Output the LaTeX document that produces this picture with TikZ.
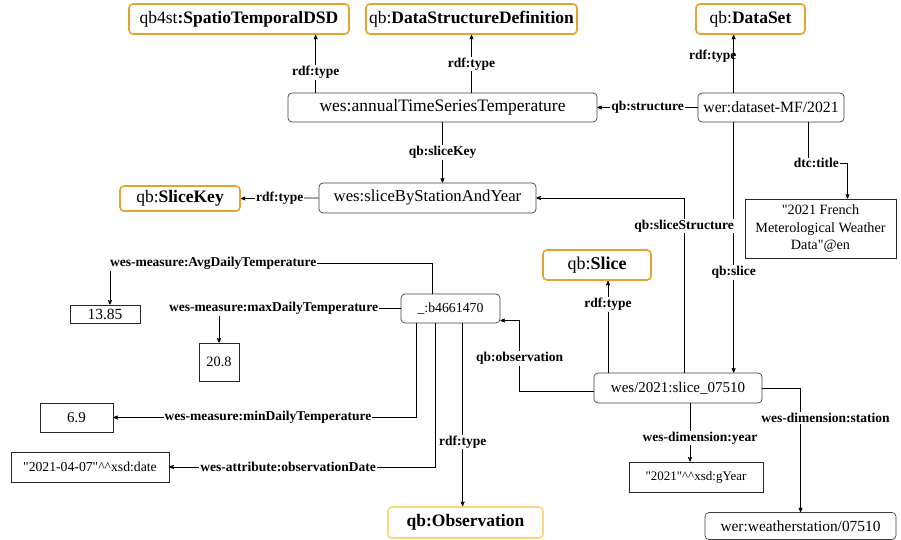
\documentclass[tikz,border=0pt]{standalone}
\usepackage{fontspec}
\setmainfont{Liberation Serif}[Ligatures=TeXOff]
\usetikzlibrary{arrows}
\definecolor{clsorange}{HTML}{E2A42C}
\definecolor{obsyellow}{HTML}{F8D77E}
\newcommand{\dq}{\symbol{34}}

\begin{document}
\begin{tikzpicture}[x=1pt,y=-1pt,>=stealth',line width=0.7pt,
    fs/.style={font=\fontsize{#1}{17.5}\selectfont},
    res/.style={draw=black!75,rounded corners=4pt,inner sep=0pt,fs=15.5},
    cls/.style={draw=clsorange,line width=1.6pt,rounded corners=4pt,inner sep=0pt,fs=17.5},
    lit/.style={draw=black!85,inner sep=0pt,align=center,fs=15.5},
    lbl/.style={fill=white,inner sep=1pt,font=\bfseries\fontsize{13.5}{15}\selectfont}]
    \useasboundingbox (0,0) rectangle (901,540);

    \node[cls, minimum width=220pt, minimum height=30pt] (std) at (239,19) {qb4st\textbf{:SpatioTemporalDSD}};
    \node[cls, minimum width=211pt, minimum height=30pt] (dsd) at (471.5,19) {qb:\textbf{DataStructureDefinition}};
    \node[cls, minimum width=109pt, minimum height=30pt] (dscls) at (750.5,19) {qb:\textbf{DataSet}};
    \node[res, fs=17.5, minimum width=309pt, minimum height=29pt] (annual) at (442.5,107.5) {wes:annualTimeSeriesTemperature};
    \node[res, fs=15.7, minimum width=146pt, minimum height=29pt] (ds) at (771,107.5) {wer:dataset-MF/2021};
    \node[cls, minimum width=120pt, minimum height=25pt] (sk) at (180,198.5) {qb:\textbf{SliceKey}};
    \node[res, fs=16.7, minimum width=217pt, minimum height=30pt] (sbs) at (427.5,198) {wes:sliceByStationAndYear};
    \node[lit, fs=14.2, minimum width=151pt, minimum height=59pt] (title) at (820.5,228.5) {\dq2021 French\\Meterological Weather\\Data\dq@en};
    \node[cls, fs=18, minimum width=108pt, minimum height=30pt] (slicecls) at (597,265) {qb:\textbf{Slice}};
    \node[res, fs=13.8, minimum width=99pt, minimum height=29pt] (bn) at (450.5,308.5) {\_:b4661470};
    \node[lit, minimum width=70pt, minimum height=18pt] (v1385) at (105,314) {13.85};
    \node[lit, fs=14.3, minimum width=40pt, minimum height=38pt] (v208) at (219,362) {20.8};
    \node[lit, fs=15, minimum width=73pt, minimum height=29pt] (v69) at (76.5,417.5) {6.9};
    \node[lit, fs=13.7, minimum width=158pt, minimum height=30pt] (date) at (90,467) {\dq2021-04-07\dq\^{}\^{}xsd:date};
    \node[res, fs=15, minimum width=168pt, minimum height=30pt] (slc) at (678,388) {wes/2021:slice\_07510};
    \node[lit, fs=13, minimum width=134pt, minimum height=30pt] (gy) at (696,477) {\dq2021\dq\^{}\^{}xsd:gYear};
    \node[cls, draw=obsyellow, minimum width=155pt, minimum height=31pt] (obs) at (465.5,522.5) {\textbf{qb:Observation}};
    \node[res, fs=15.4, minimum width=191pt, minimum height=27pt] (ws) at (800.5,526) {wer:weatherstation/07510};

    % dataset structure
    \draw[->] ([xshift=28pt]annual.north west) -- node[lbl,pos=.35] {rdf:type} ([xshift=28pt]annual.north west |- std.south);
    \draw[->] (annual.north -| dsd.south) -- node[lbl] {rdf:type} (dsd.south);
    \draw[->] ([xshift=36pt]ds.north west) -- node[lbl,fill=none,pos=.63,xshift=-21pt] {rdf:type} ([xshift=36pt]ds.north west |- dscls.south);
    \draw[->] (ds.west) -- node[lbl] {qb:structure} (annual.east);
    \draw[->] (annual.south) -- node[lbl] {qb:sliceKey} (annual.south |- sbs.north);
    \draw[->] (sbs.west) -- node[lbl] {rdf:type} (sk.east);
    \draw[->] ([xshift=-36pt]ds.south east) -- ++(0,41) node[lbl,xshift=8pt] {dtc:title} -| ([xshift=27pt]title.north);
    \draw[->] ([xshift=36pt]ds.south west) -- node[lbl,pos=.6] {qb:slice} ([xshift=36pt]ds.south west |- slc.north);

    % slice
    \draw[->] ([xshift=6pt]slc.north) |- node[lbl,pos=.42] {qb:sliceStructure} (sbs.east);
    \draw[->] ([xshift=-70pt]slc.north) -- node[lbl,pos=.74] {rdf:type} ([xshift=-70pt]slc.north |- slicecls.south);
    \draw[->] ([yshift=-3pt]slc.west) -- ++(-74,0) |- node[lbl,pos=.23] {qb:observation} ([yshift=-12pt]bn.east);
    \draw[->] ([xshift=12pt]slc.south) -- node[lbl,pos=.6,xshift=10pt] {wes-dimension:year} ([xshift=12pt]slc.south |- gy.north);
    \draw[->] (slc.east) -| node[lbl,pos=.62,xshift=25pt] {wes-dimension:station} (ws.north);

    % observation
    \draw[->] ([xshift=32pt]bn.north west) -- ++(0,-30) -| node[lbl,pos=.34] {wes-measure:AvgDailyTemperature} ([xshift=5pt]v1385.north);
    \draw[->] (bn.west) -| node[lbl,pos=.35] {wes-measure:maxDailyTemperature} (v208.north);
    \draw[->] ([xshift=16pt]bn.south west) |- node[lbl,pos=.745] {wes-measure:minDailyTemperature} (v69.east);
    \draw[->] ([xshift=35pt]bn.south west) |- node[lbl,pos=.777] {wes-attribute:observationDate} (date.east);
    \draw[->] ([xshift=62pt]bn.south west) -- node[lbl,pos=.65] {rdf:type} ([xshift=62pt]bn.south west |- obs.north);
\end{tikzpicture}
\end{document}
